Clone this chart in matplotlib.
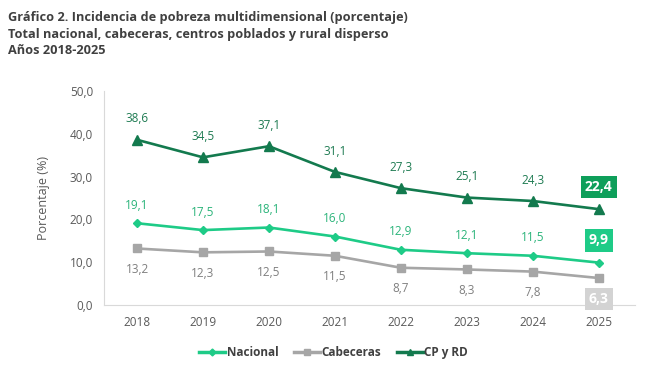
import matplotlib
matplotlib.use("Agg")
import matplotlib.pyplot as plt
from matplotlib.lines import Line2D

years = [2018, 2019, 2020, 2021, 2022, 2023, 2024, 2025]
nacional = [19.1, 17.5, 18.1, 16.0, 12.9, 12.1, 11.5, 9.9]
cabeceras = [13.2, 12.3, 12.5, 11.5, 8.7, 8.3, 7.8, 6.3]
cp_rd = [38.6, 34.5, 37.1, 31.1, 27.3, 25.1, 24.3, 22.4]
yticks = [0, 10, 20, 30, 40, 50]

C_NAC = "#1ECB87"
C_CAB = "#A6A6A6"
C_CP = "#137A4E"
C_NAC_TXT = "#2BB47A"
C_CAB_TXT = "#7F7F7F"
C_CP_TXT = "#1E7B52"
C_CP_BOX = "#0E9F5A"
C_CAB_BOX = "#D3D3D3"

FONT = ["Open Sans", "DejaVu Sans"]
plt.rcParams["font.family"] = FONT


def fmt(v):
    return f"{v:.1f}".replace(".", ",")


fig = plt.figure(figsize=(6.67, 3.67), dpi=100)
ax = fig.add_axes([0.156, 0.169, 0.796, 0.583])

ax.plot(years, cp_rd, color=C_CP, lw=1.9, marker="^", ms=6.5, label="CP y RD")
ax.plot(years, nacional, color=C_NAC, lw=1.9, marker="D", ms=4.5, label="Nacional")
ax.plot(years, cabeceras, color=C_CAB, lw=1.9, marker="s", ms=5.5, label="Cabeceras")

ax.set_xlim(2017.5, 2025.55)
ax.set_ylim(0, 50)
ax.set_xticks(years)
ax.set_yticks(yticks)
ax.set_yticklabels([fmt(v) for v in yticks])
ax.tick_params(length=0, labelsize=8.5, colors="#595959", pad=8)
for s in ["top", "right"]:
    ax.spines[s].set_visible(False)
for s in ["left", "bottom"]:
    ax.spines[s].set_color("#D9D9D9")
ax.set_ylabel("Porcentaje (%)", fontsize=9, color="#595959", labelpad=14)

last = len(years) - 1
for i, (x, a, b, c) in enumerate(zip(years, cp_rd, nacional, cabeceras)):
    if i == last:
        box = dict(boxstyle="square,pad=0.3", lw=0)
        ax.annotate(fmt(a), (x, a), xytext=(0, 16), textcoords="offset points",
                    ha="center", va="center", fontsize=10, fontweight="bold", color="white",
                    bbox=dict(box, fc=C_CP_BOX))
        ax.annotate(fmt(b), (x, b), xytext=(0, 16), textcoords="offset points",
                    ha="center", va="center", fontsize=10, fontweight="bold", color="white",
                    bbox=dict(box, fc=C_NAC))
        ax.annotate(fmt(c), (x, c), xytext=(0, -15), textcoords="offset points",
                    ha="center", va="center", fontsize=10, fontweight="bold", color="white",
                    bbox=dict(box, fc=C_CAB_BOX))
    else:
        ax.annotate(fmt(a), (x, a), xytext=(0, 15), textcoords="offset points",
                    ha="center", va="center", fontsize=8.5, color=C_CP_TXT)
        ax.annotate(fmt(b), (x, b), xytext=(0, 13), textcoords="offset points",
                    ha="center", va="center", fontsize=8.5, color=C_NAC_TXT)
        ax.annotate(fmt(c), (x, c), xytext=(0, -15), textcoords="offset points",
                    ha="center", va="center", fontsize=8.5, color=C_CAB_TXT)

handles = [
    Line2D([], [], color=C_NAC, lw=2.5, marker="D", ms=3.5),
    Line2D([], [], color=C_CAB, lw=2.5, marker="s", ms=4.5),
    Line2D([], [], color=C_CP, lw=2.5, marker="^", ms=4.5),
]
fig.legend(handles, ["Nacional", "Cabeceras", "CP y RD"], loc="center",
           bbox_to_anchor=(0.5, 0.04), ncol=3, frameon=False, handlelength=2.2,
           handletextpad=0.15, columnspacing=1.3,
           prop=dict(family=FONT, weight="bold", size=8.5))
for t in fig.legends[0].get_texts():
    t.set_color("#404040")

fig.text(0.012, 0.97, "Gráfico 2. Incidencia de pobreza multidimensional (porcentaje)\n"
         "Total nacional, cabeceras, centros poblados y rural disperso\n"
         "Años 2018-2025", ha="left", va="top", fontsize=9.2, fontweight="bold",
         color="#404040", linespacing=1.35)

fig.savefig("out.png", dpi=100)
